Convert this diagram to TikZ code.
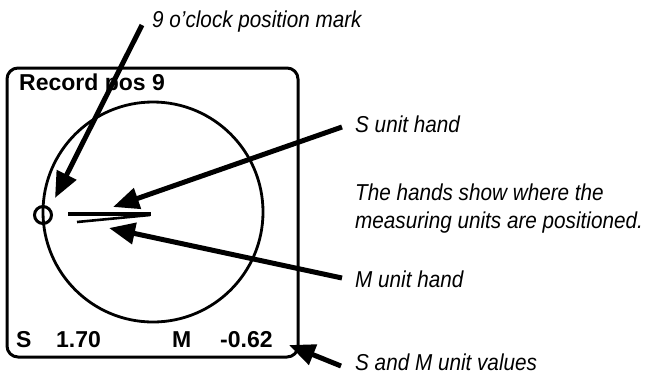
\documentclass[tikz,border=0pt]{standalone}
\usepackage{fontspec}
\setmainfont{Liberation Sans}
\newfontfamily\notefont[FakeStretch=0.9]{Liberation Sans}
\usetikzlibrary{arrows.meta}
\tikzset{
  callout/.style={line width=5pt,-{Triangle[length=26pt,width=21pt]}},
  note/.style={font=\notefont\fontsize{23}{26}\selectfont\itshape,anchor=base west,inner sep=0pt},
  readout/.style={font=\fontsize{23}{26}\selectfont\bfseries,anchor=base west,inner sep=0pt},
  frame/.style={draw,line width=3pt,rounded corners=11pt},
}
\begin{document}
\begin{tikzpicture}[x=1pt,y=-1pt]
\useasboundingbox (0,0) rectangle (651,376);
% display frame
\draw[frame] (7,68) rectangle (298,357);
\node[draw,circle,line width=2.8pt,minimum size=220pt,inner sep=0pt] (dial) at (153,212) {};
\node[draw,circle,line width=3pt,minimum size=17pt,inner sep=0pt] (mark) at (43,215) {};
% hands
\coordinate (shA) at (68,214);
\coordinate (shB) at (151,214);
\coordinate (mhA) at (77,222);
\coordinate (mhB) at (150,215);
\draw[line width=3.2pt] (shA) -- (shB);
\draw[line width=2.6pt] (mhA) -- (mhB);
% readouts
\node[readout] (title) at (19,90) {Record pos 9};
\node[readout] (sl) at (16,347) {S};
\node[readout] (sv) at (56,347) {1.70};
\node[readout] (ml) at (172,347) {M};
\node[readout] (mv) at (220,347) {-0.62};
% notes
\node[note] (n1) at (152,27) {9 o’clock position mark};
\node[note] (n2) at (355,132) {S unit hand};
\node[note] (n3) at (355,200) {The hands show where the};
\node[note] (n4) at (355,228) {measuring units are positioned.};
\node[note] (n5) at (355,287) {M unit hand};
\node[note] (n6) at (355,370) {S and M unit values};
% arrows
\coordinate (a1s) at (142,25);
\coordinate (a1t) at (55,198);
\coordinate (a2s) at (342,127);
\coordinate (a2t) at (113,207);
\coordinate (a3s) at (342,278);
\coordinate (a3t) at (109,228);
\coordinate (a4s) at (341,366);
\coordinate (a4t) at (289,345);
\draw[callout] (a1s) -- (a1t);
\draw[callout] (a2s) -- (a2t);
\draw[callout] (a3s) -- (a3t);
\draw[callout] (a4s) -- (a4t);
\end{tikzpicture}
\end{document}
